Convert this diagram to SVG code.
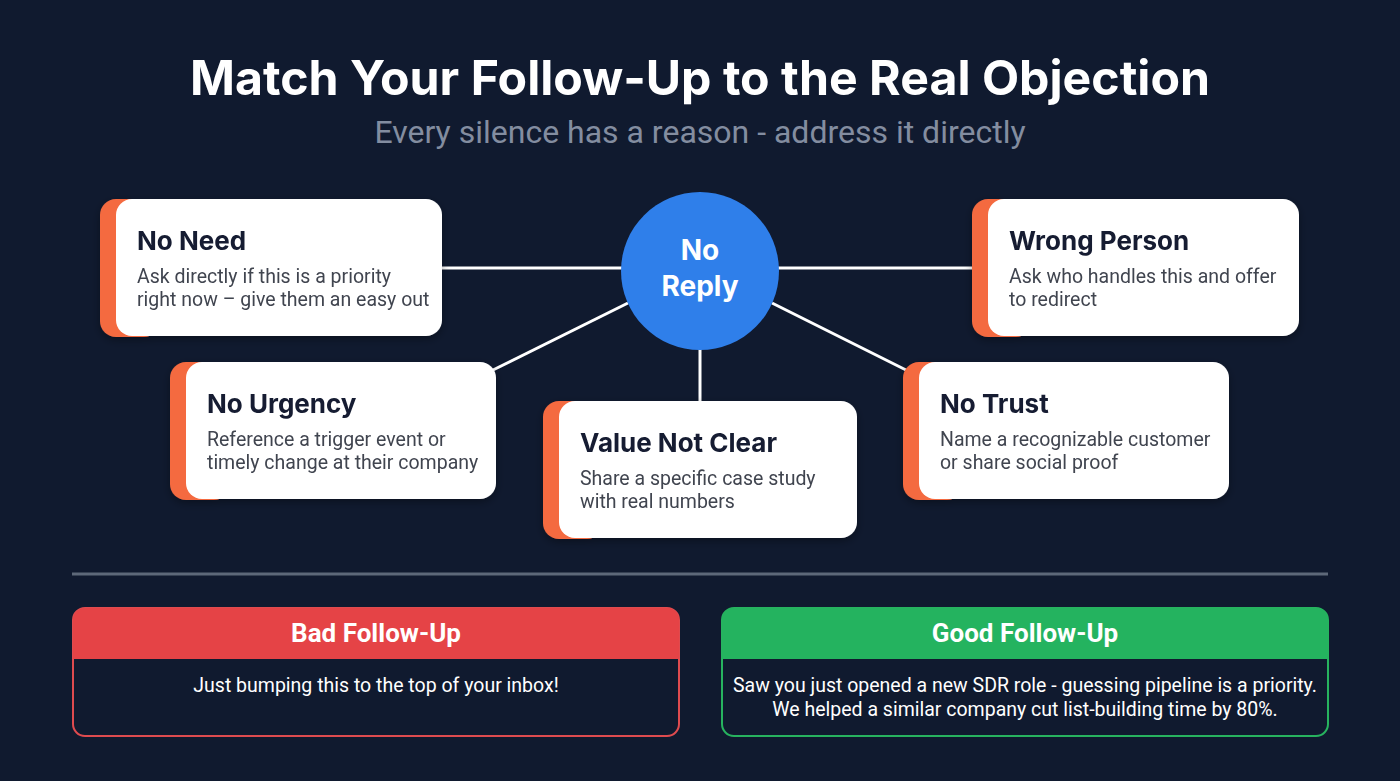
<svg xmlns="http://www.w3.org/2000/svg" width="1400" height="781" viewBox="0 0 1400 781">
<defs>
<style>
.bg{fill:#101a2f}
.title{font-family:Inter,"Noto Sans",sans-serif;font-weight:700;fill:#ffffff}
.sub{font-family:Roboto,"Liberation Sans",sans-serif;fill:#838da0}
.accent{fill:#f46a3f}
.card{fill:#ffffff}
.ct{font-family:Inter,"Noto Sans",sans-serif;font-weight:700;font-size:26px;fill:#141b30}
.cd{font-family:Roboto,"Liberation Sans",sans-serif;font-size:19.5px;fill:#40444f}
.conn{stroke:#ffffff;stroke-width:3;fill:none}
.hub{fill:#2f7fea}
.hubt{font-family:Inter,"Noto Sans",sans-serif;font-weight:700;font-size:28px;fill:#ffffff}
.boxh{font-family:Roboto,"Liberation Sans",sans-serif;font-weight:700;font-size:26px;fill:#ffffff}
.boxb{font-family:Roboto,"Liberation Sans",sans-serif;font-size:19.5px;fill:#ffffff}
</style>
<filter id="sh" x="-10%" y="-10%" width="120%" height="130%">
<feDropShadow dx="0" dy="3" stdDeviation="4" flood-color="#000" flood-opacity="0.35"/>
</filter>
</defs>
<rect class="bg" x="0" y="0" width="1400" height="781"/>
<g id="header">
<text class="title" x="700" y="95" font-size="48" text-anchor="middle" textLength="1020" lengthAdjust="spacingAndGlyphs">Match Your Follow-Up to the Real Objection</text>
<text class="sub" x="700" y="143" font-size="32" text-anchor="middle">Every silence has a reason - address it directly</text>
</g>
<g id="connectors">
<line class="conn" x1="442" y1="268" x2="625" y2="268"/>
<line class="conn" x1="775" y1="268" x2="972" y2="268"/>
<line class="conn" x1="628" y1="303" x2="493" y2="370"/>
<line class="conn" x1="772" y1="303" x2="906" y2="370"/>
<line class="conn" x1="700" y1="345" x2="700" y2="402"/>
</g>
<g id="no-reply">
<circle class="hub" cx="700" cy="271" r="79"/>
<text class="hubt" x="700" y="260" text-anchor="middle">No</text>
<text class="hubt" x="700" y="296" text-anchor="middle">Reply</text>
</g>
<g id="no-need" filter="url(#sh)">
<rect class="accent" x="100" y="199" width="60" height="138" rx="16"/>
<rect class="card" x="116" y="199" width="326" height="137" rx="16"/>
<text class="ct" x="137" y="250">No Need</text>
<text class="cd" x="137" y="283">Ask directly if this is a priority</text>
<text class="cd" x="137" y="306">right now – give them an easy out</text>
</g>
<g id="wrong-person" filter="url(#sh)">
<rect class="accent" x="972" y="199" width="60" height="138" rx="16"/>
<rect class="card" x="988" y="199" width="311" height="137" rx="16"/>
<text class="ct" x="1009" y="250">Wrong Person</text>
<text class="cd" x="1009" y="283">Ask who handles this and offer</text>
<text class="cd" x="1009" y="306">to redirect</text>
</g>
<g id="no-urgency" filter="url(#sh)">
<rect class="accent" x="170" y="362" width="60" height="138" rx="16"/>
<rect class="card" x="186" y="362" width="310" height="137" rx="16"/>
<text class="ct" x="207" y="413">No Urgency</text>
<text class="cd" x="207" y="446">Reference a trigger event or</text>
<text class="cd" x="207" y="469">timely change at their company</text>
</g>
<g id="value-not-clear" filter="url(#sh)">
<rect class="accent" x="543" y="401" width="60" height="138" rx="16"/>
<rect class="card" x="559" y="401" width="298" height="137" rx="16"/>
<text class="ct" x="580" y="452">Value Not Clear</text>
<text class="cd" x="580" y="485">Share a specific case study</text>
<text class="cd" x="580" y="508">with real numbers</text>
</g>
<g id="no-trust" filter="url(#sh)">
<rect class="accent" x="903" y="362" width="60" height="138" rx="16"/>
<rect class="card" x="919" y="362" width="310" height="137" rx="16"/>
<text class="ct" x="940" y="413">No Trust</text>
<text class="cd" x="940" y="446">Name a recognizable customer</text>
<text class="cd" x="940" y="469">or share social proof</text>
</g>
<line x1="72" y1="574" x2="1328" y2="574" stroke="#5d6879" stroke-width="3"/>
<g id="bad-follow-up">
<rect x="73" y="608" width="606" height="128" rx="12" fill="#101a2f" stroke="#df4b4f" stroke-width="2"/>
<path d="M73 659 V620 A12 12 0 0 1 85 608 H667 A12 12 0 0 1 679 620 V659 Z" fill="#e54346"/>
<text class="boxh" x="376" y="642" text-anchor="middle">Bad Follow-Up</text>
<text class="boxb" x="376" y="692" text-anchor="middle">Just bumping this to the top of your inbox!</text>
</g>
<g id="good-follow-up">
<rect x="722" y="608" width="606" height="128" rx="12" fill="#101a2f" stroke="#27b35f" stroke-width="2"/>
<path d="M722 659 V620 A12 12 0 0 1 734 608 H1316 A12 12 0 0 1 1328 620 V659 Z" fill="#24b35f"/>
<text class="boxh" x="1025" y="642" text-anchor="middle">Good Follow-Up</text>
<text class="boxb" x="1025" y="692" text-anchor="middle">Saw you just opened a new SDR role - guessing pipeline is a priority.</text>
<text class="boxb" x="1025" y="716" text-anchor="middle">We helped a similar company cut list-building time by 80%.</text>
</g>
</svg>
